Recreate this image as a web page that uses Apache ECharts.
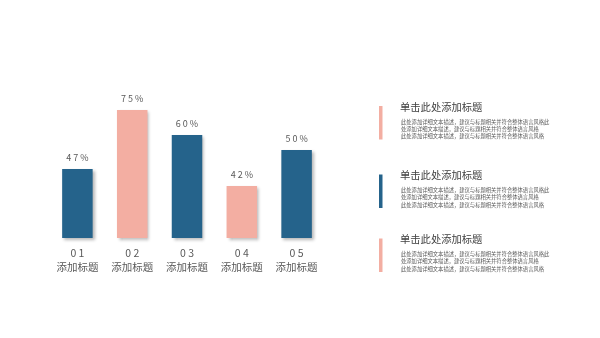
<!DOCTYPE html>
<html>
<head>
<meta charset="utf-8">
<script src="https://cdn.jsdelivr.net/npm/echarts@6/dist/echarts.min.js"></script>
<style>
html,body{margin:0;padding:0;background:#fff;}
#c{width:600px;height:338px;}
</style>
</head>
<body>
<div id="c"></div>
<script>
// ---- data ----
var categoryNums = ['0 1', '0 2', '0 3', '0 4', '0 5'];
var categoryNames = ['添加标题', '添加标题', '添加标题', '添加标题', '添加标题'];
// bar heights as drawn in the picture (the drawn heights are not proportional to the labels)
var barHeights = [69, 128, 103, 52, 88];
var percentLabels = ['4 7 %', '7 5 %', '6 0 %', '4 2 %', '5 0 %'];
var barColorKeys = ['blue', 'pink', 'blue', 'pink', 'blue'];
var itemTitles = ['单击此处添加标题', '单击此处添加标题', '单击此处添加标题'];
var itemLines = [
  '此处添加详细文本描述，建议与标题相关并符合整体语言风格此',
  '处添加详细文本描述，建议与标题相关并符合整体语言风格',
  '此处添加详细文本描述，建议与标题相关并符合整体语言风格'
];
var itemColorKeys = ['pink', 'blue', 'pink'];

// ---- style ----
var COLORS = { blue: '#25638b', pink: '#f3aea2' };
var FONT = '"Noto Sans CJK SC", "Noto Sans", sans-serif';
var TEXT = '#595959';

var chart = echarts.init(document.getElementById('c'));

var cats = categoryNums.map(function (n, i) { return n + '\n' + categoryNames[i]; });

var graphics = [];
var titleY = [108, 176.5, 240.5];
itemTitles.forEach(function (t, k) {
  var ty = titleY[k];
  graphics.push({
    type: 'rect', left: 379, top: ty - 2, silent: true,
    shape: { width: 3.5, height: 33.5 },
    style: { fill: COLORS[itemColorKeys[k]] }
  });
  graphics.push({
    type: 'text', left: 400, top: ty - 6.5, silent: true,
    style: { text: t, fill: '#404040', font: '10.3px ' + FONT }
  });
  itemLines.forEach(function (line, j) {
    graphics.push({
      type: 'text', left: 401, top: ty + 11 + j * 7.3, silent: true,
      style: { text: line, fill: TEXT, font: '5.3px ' + FONT }
    });
  });
});

chart.setOption({
  backgroundColor: '#ffffff',
  animation: false,
  grid: { left: 50, width: 274, top: 98, bottom: 100 },
  xAxis: {
    type: 'category',
    data: cats,
    axisLine: { show: false },
    axisTick: { show: false },
    axisLabel: {
      margin: 8,
      interval: 0,
      formatter: function (v) {
        var p = v.split('\n');
        return '{n|' + p[0] + '}\n{t|' + p[1] + '}';
      },
      rich: {
        n: { fontSize: 10.5, lineHeight: 14, color: TEXT, fontFamily: FONT },
        t: { fontSize: 10.5, lineHeight: 14, color: TEXT, fontFamily: FONT }
      }
    }
  },
  yAxis: {
    type: 'value', min: 0, max: 140, show: false,
    splitLine: { show: false }
  },
  series: [{
    type: 'bar',
    barWidth: 30.5,
    data: barHeights.map(function (h, i) {
      return { value: h, itemStyle: { color: COLORS[barColorKeys[i]] } };
    }),
    itemStyle: {
      shadowBlur: 3,
      shadowOffsetX: 2,
      shadowOffsetY: 2,
      shadowColor: 'rgba(0,0,0,0.28)'
    },
    label: {
      show: true,
      position: 'top',
      distance: 7,
      formatter: function (p) { return percentLabels[p.dataIndex]; },
      fontSize: 9,
      color: TEXT,
      fontFamily: FONT
    }
  }],
  graphic: graphics
});
</script>
</body>
</html>
